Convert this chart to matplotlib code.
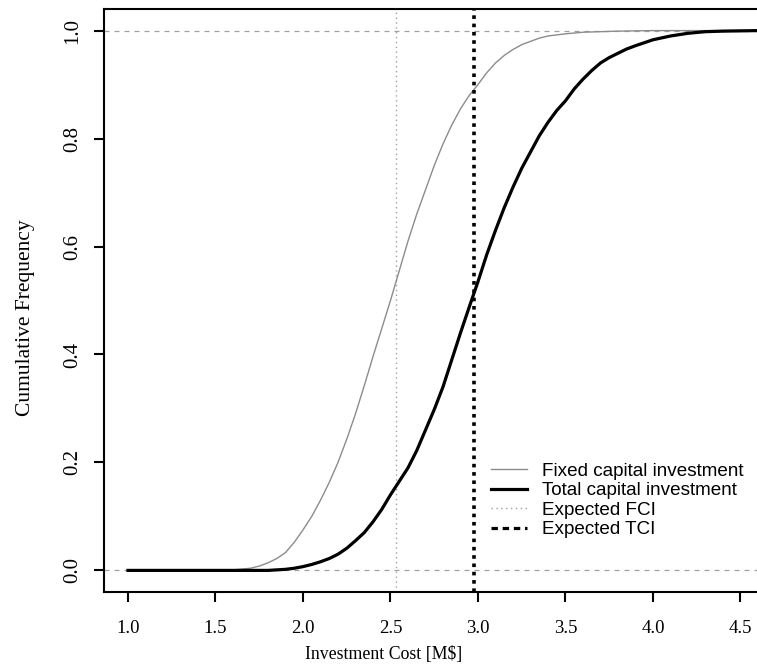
import matplotlib
matplotlib.use("Agg")
import matplotlib.pyplot as plt
from matplotlib.lines import Line2D

# ---- data ----
fci_x = [1.0, 1.5, 1.6, 1.7, 1.75, 1.8, 1.85, 1.9, 1.95, 2.0, 2.05, 2.1, 2.15, 2.2,
         2.25, 2.3, 2.35, 2.4, 2.45, 2.5, 2.55, 2.6, 2.65, 2.7, 2.75, 2.8, 2.85, 2.9,
         2.95, 3.0, 3.05, 3.1, 3.15, 3.2, 3.25, 3.3, 3.35, 3.4, 3.5, 3.6, 3.8, 4.0, 4.6]
fci_y = [0.0, 0.0, 0.001, 0.004, 0.008, 0.014, 0.022, 0.033, 0.052, 0.075, 0.10, 0.13,
         0.163, 0.20, 0.243, 0.29, 0.342, 0.396, 0.448, 0.50, 0.555, 0.61, 0.66, 0.705,
         0.75, 0.79, 0.825, 0.855, 0.88, 0.90, 0.922, 0.94, 0.954, 0.965, 0.974, 0.98,
         0.986, 0.99, 0.994, 0.997, 0.999, 1.0, 1.0]
tci_x = [1.0, 1.8, 1.9, 1.95, 2.0, 2.05, 2.1, 2.15, 2.2, 2.25, 2.3, 2.35, 2.4, 2.45,
         2.5, 2.55, 2.6, 2.65, 2.7, 2.75, 2.8, 2.85, 2.9, 2.95, 3.0, 3.05, 3.1, 3.15,
         3.2, 3.25, 3.3, 3.35, 3.4, 3.45, 3.5, 3.55, 3.6, 3.65, 3.7, 3.75, 3.8, 3.85,
         3.9, 4.0, 4.1, 4.2, 4.3, 4.4, 4.6]
tci_y = [0.0, 0.0, 0.002, 0.004, 0.007, 0.011, 0.016, 0.022, 0.03, 0.041, 0.055, 0.07,
         0.09, 0.113, 0.14, 0.165, 0.19, 0.222, 0.26, 0.298, 0.34, 0.39, 0.44, 0.488,
         0.535, 0.585, 0.63, 0.672, 0.71, 0.745, 0.775, 0.805, 0.83, 0.852, 0.87, 0.892,
         0.91, 0.926, 0.94, 0.95, 0.958, 0.966, 0.972, 0.983, 0.99, 0.995, 0.998, 0.999,
         1.0]
expected_fci = 2.53
expected_tci = 2.98
x_ticks = [1.0, 1.5, 2.0, 2.5, 3.0, 3.5, 4.0, 4.5]
y_ticks = [0.0, 0.2, 0.4, 0.6, 0.8, 1.0]
legend_labels = ["Fixed capital investment", "Total capital investment",
                 "Expected FCI", "Expected TCI"]

W, H = 757, 671
fig = plt.figure(figsize=(W / 100, H / 100), dpi=100)
left, right, top, bottom = 104, 757, 9, 592
ax = fig.add_axes([left / W, 1 - bottom / H, (right - left) / W, (bottom - top) / H])

ax.set_xlim(0.863, 1.0 + (757 - 128) / 175.0)
ax.set_ylim(-0.04, 1.04)

ax.axhline(0, color="#a0a0a0", lw=0.9, ls=(0, (4, 4)), zorder=1)
ax.axhline(1, color="#a0a0a0", lw=0.9, ls=(0, (4, 4)), zorder=1)
ax.axvline(expected_fci, color="#a0a0a0", lw=1.0, ls=(0, (1, 2.5)), zorder=1)
ax.axvline(expected_tci, color="black", lw=2.6, ls=(0, (1, 1.3)), zorder=3)

ax.plot(fci_x, fci_y, color="#8c8c8c", lw=1.0, zorder=2)
ax.plot(tci_x, tci_y, color="black", lw=2.3, zorder=2)

for s in ["left", "bottom", "top"]:
    ax.spines[s].set_linewidth(1.5)
ax.spines["right"].set_visible(False)

serif = ["Liberation Serif", "DejaVu Serif"]
ax.set_xticks(x_ticks)
ax.set_xticklabels([f"{v:.1f}" for v in x_ticks], family=serif, fontsize=13.5)
ax.set_yticks(y_ticks)
ax.set_yticklabels([f"{v:.1f}" for v in y_ticks], family=serif, fontsize=15,
                   rotation=90, va="center")
ax.tick_params(axis="both", length=7, width=1.5, direction="out")
ax.tick_params(axis="x", pad=13)
ax.tick_params(axis="y", pad=9)
ax.set_xlabel("Investment Cost [M$]", family=serif, fontsize=12.8)
ax.set_ylabel("Cumulative Frequency", family=serif, fontsize=15.5)
ax.xaxis.set_label_coords((384 - left) / (right - left), -(655 - bottom) / (bottom - top),
                          transform=ax.transAxes)
ax.yaxis.set_label_coords(-(104 - 26) / (right - left), (bottom - 318) / (bottom - top),
                          transform=ax.transAxes)
ax.xaxis.label.set_va("center")
ax.yaxis.label.set_va("center")

handles = [
    Line2D([], [], color="#8c8c8c", lw=1.0),
    Line2D([], [], color="black", lw=2.3),
    Line2D([], [], color="#a0a0a0", lw=1.0, ls=(0, (1, 2.5))),
    Line2D([], [], color="black", lw=2.3, ls=(0, (2, 1.5))),
]
fig.legend(handles, legend_labels, loc="upper left",
           bbox_to_anchor=(482 / W, 1 - 453 / H),
           frameon=False, borderpad=0, handlelength=1.9, handletextpad=0.78,
           labelspacing=0.12, prop={"family": ["Liberation Sans", "DejaVu Sans"],
                                    "size": 13.6})

fig.savefig("out.png", dpi=100)
